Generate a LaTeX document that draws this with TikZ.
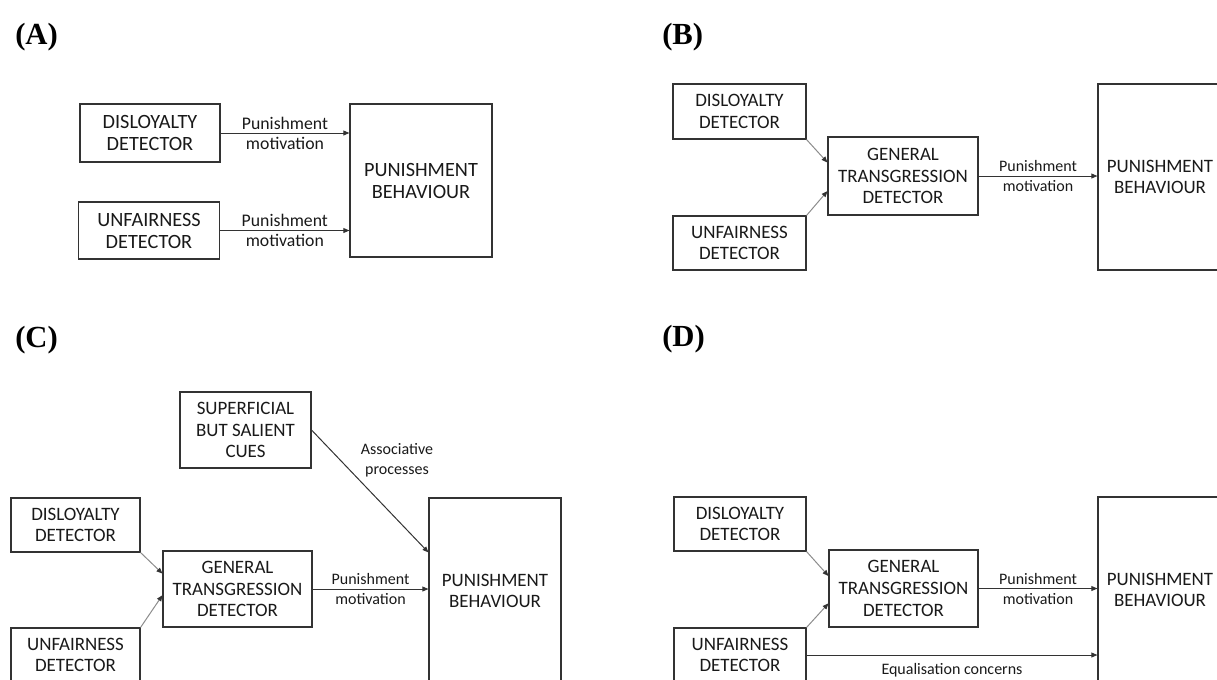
\documentclass[tikz,border=0pt]{standalone}
\usepackage{fontspec}
\setmainfont{Carlito}
\newfontfamily\panelfont{Liberation Serif}
\usetikzlibrary{positioning,arrows.meta,calc}

\tikzset{
  box/.style={draw=black!80, line width=0.8pt, inner sep=0pt, align=center, text=black!90,
    font=\fontsize{14.2}{16.2}\selectfont},
  boxA/.style={box, font=\fontsize{15.2}{16.5}\selectfont},
  lab/.style={align=center, text=black!90, inner sep=0pt, font=\fontsize{12}{15}\selectfont},
  labA/.style={lab, font=\fontsize{13.3}{15}\selectfont},
  flow/.style={-{Triangle[length=4.5pt,width=3.6pt]}, line width=0.75pt, draw=black!80},
  feed/.style={-{Triangle[length=4.5pt,width=3.6pt,color=black!80]}, line width=0.75pt, draw=black!45},
  panel/.style={anchor=west, inner sep=0pt, font=\panelfont\bfseries\fontsize{23}{26}\selectfont},
}

\begin{document}
\begin{tikzpicture}[x=0.75pt,y=-0.75pt]
  \useasboundingbox (0,0) rectangle (1217,679);
  \clip (0,0) rectangle (1217,679);

  \node[panel] (pa) at (15,37) {(A)};
  \node[panel] (pb) at (662,37) {(B)};
  \node[panel] (pc) at (15,340) {(C)};
  \node[panel] (pd) at (662,339) {(D)};

  \begin{scope}
    \node[boxA, minimum width=105pt, minimum height=43.5pt] (adis) at (150,133) {DISLOYALTY\\DETECTOR};
    \node[boxA, minimum width=106pt, minimum height=42.75pt] (aunf) at (149,230.5) {UNFAIRNESS\\DETECTOR};
    \node[boxA, minimum width=106.5pt, minimum height=114.75pt] (apun) at (421,180.5) {PUNISHMENT\\BEHAVIOUR};
    \draw[flow] (adis.east) -- (adis.east -| apun.west) node[labA, midway] {Punishment\\motivation};
    \draw[flow] (aunf.east) -- (aunf.east -| apun.west) node[labA, midway] {Punishment\\motivation};
  \end{scope}

  \begin{scope}
    \node[box, minimum width=99.75pt, minimum height=41.25pt] (bdis) at (739.5,111.5) {DISLOYALTY\\DETECTOR};
    \node[box, minimum width=112.5pt, minimum height=58.5pt] (bgen) at (903,176) {GENERAL\\TRANSGRESSION\\DETECTOR};
    \node[box, minimum width=99.75pt, minimum height=40.5pt] (bunf) at (739.5,243) {UNFAIRNESS\\DETECTOR};
    \node[box, minimum width=93pt, minimum height=139.5pt] (bpun) at (1160,177) {PUNISHMENT\\BEHAVIOUR};
    \draw[feed] (bdis.south east) -- ($(bgen.north west)!0.33!(bgen.south west)$);
    \draw[feed] (bunf.north east) -- ($(bgen.north west)!0.69!(bgen.south west)$);
    \draw[flow] (bgen.east) -- (bgen.east -| bpun.west) node[lab, midway] {Punishment\\motivation};
  \end{scope}

  \begin{scope}
    \node[box, minimum width=98.25pt, minimum height=57pt] (csup) at (245.5,430) {SUPERFICIAL\\BUT SALIENT\\CUES};
    \node[box, minimum width=96.75pt, minimum height=40.5pt] (cdis) at (75.5,525) {DISLOYALTY\\DETECTOR};
    \node[box, minimum width=111.75pt, minimum height=57pt] (cgen) at (237.5,589) {GENERAL\\TRANSGRESSION\\DETECTOR};
    \node[box, minimum width=96.75pt, minimum height=40.5pt] (cunf) at (75.5,655) {UNFAIRNESS\\DETECTOR};
    \node[box, minimum width=99pt, minimum height=139.5pt] (cpun) at (495,591) {PUNISHMENT\\BEHAVIOUR};
    \draw[feed] (cdis.south east) -- ($(cgen.north west)!0.3!(cgen.south west)$);
    \draw[feed] (cunf.north east) -- ($(cgen.north west)!0.58!(cgen.south west)$);
    \draw[flow] (csup.east) -- ($(cpun.north west)+(0,55)$)
      node[lab, midway, xshift=20.25pt, yshift=23.25pt] {Associative\\processes};
    \draw[flow] (cgen.east) -- (cgen.east -| cpun.west) node[lab, midway] {Punishment\\motivation};
  \end{scope}

  \begin{scope}
    \node[box, minimum width=99pt, minimum height=40.5pt] (ddis) at (740,524) {DISLOYALTY\\DETECTOR};
    \node[box, minimum width=111.75pt, minimum height=57.75pt] (dgen) at (903.5,588.5) {GENERAL\\TRANSGRESSION\\DETECTOR};
    \node[box, minimum width=99pt, minimum height=40.5pt] (dunf) at (740,655) {UNFAIRNESS\\DETECTOR};
    \node[box, minimum width=93pt, minimum height=139.5pt] (dpun) at (1160,590) {PUNISHMENT\\BEHAVIOUR};
    \draw[feed] (ddis.south east) -- ($(dgen.north west)!0.34!(dgen.south west)$);
    \draw[feed] (dunf.north east) -- ($(dgen.north west)!0.69!(dgen.south west)$);
    \draw[flow] (dgen.east) -- (dgen.east -| dpun.west) node[lab, midway] {Punishment\\motivation};
    \draw[flow] (dunf.east) -- (dunf.east -| dpun.west) node[lab, midway, below=6pt] {Equalisation concerns};
  \end{scope}
\end{tikzpicture}
\end{document}
